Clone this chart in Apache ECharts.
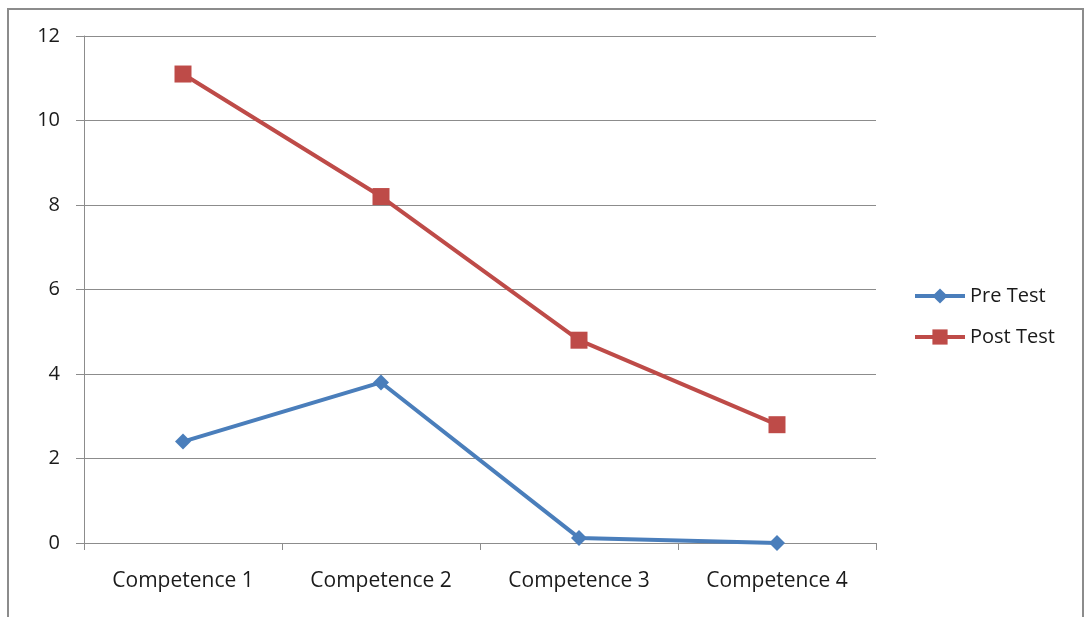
<!DOCTYPE html>
<html>
<head>
<meta charset="utf-8">
<script src="https://cdn.jsdelivr.net/npm/echarts@6/dist/echarts.min.js"></script>
<style>
  html, body { margin: 0; padding: 0; background: #fff; }
  #chart { width: 1085px; height: 617px; }
</style>
</head>
<body>
<div id="chart"></div>
<script>
const categories = ['Competence 1', 'Competence 2', 'Competence 3', 'Competence 4'];
const preTest = [2.4, 3.8, 0.12, 0];
const postTest = [11.1, 8.2, 4.8, 2.8];
const yTicks = { min: 0, max: 12, interval: 2 };

const font = '"Open Sans", "Liberation Sans", sans-serif';
const chart = echarts.init(document.getElementById('chart'), null, { renderer: 'canvas' });

chart.setOption({
  backgroundColor: '#fff',
  animation: false,
  graphic: [{
    type: 'rect',
    shape: { x: 8, y: 9, width: 1075, height: 640 },
    style: { fill: 'none', stroke: '#8c8c8c', lineWidth: 2 },
    silent: true
  }],
  grid: { left: 84, right: 209, top: 36, bottom: 74, containLabel: false },
  legend: {
    orient: 'vertical',
    left: 908,
    top: 281,
    itemWidth: 50,
    itemHeight: 19,
    itemGap: 21,
    lineStyle: { width: 4 },
    textStyle: { fontFamily: font, fontSize: 20, color: '#1a1a1a' },
    data: ['Pre Test', 'Post Test']
  },
  xAxis: {
    type: 'category',
    data: categories,
    boundaryGap: true,
    axisLine: { lineStyle: { color: '#8c8c8c', width: 1 } },
    axisTick: { show: true, length: 7, alignWithLabel: false, lineStyle: { color: '#8c8c8c' } },
    axisLabel: { fontFamily: font, fontSize: 21, color: '#1a1a1a', margin: 28 }
  },
  yAxis: {
    type: 'value',
    min: yTicks.min,
    max: yTicks.max,
    interval: yTicks.interval,
    axisLine: { show: true, lineStyle: { color: '#8c8c8c', width: 1 } },
    axisTick: { show: true, length: 8, lineStyle: { color: '#8c8c8c' } },
    axisLabel: { fontFamily: font, fontSize: 20, color: '#1a1a1a', margin: 24 },
    splitLine: { show: true, lineStyle: { color: '#8c8c8c', width: 1 } }
  },
  series: [
    {
      name: 'Pre Test',
      type: 'line',
      data: preTest,
      color: '#4a7ebb',
      symbol: 'diamond',
      symbolSize: 16,
      lineStyle: { width: 4, color: '#4a7ebb' },
      itemStyle: { color: '#4a7ebb' }
    },
    {
      name: 'Post Test',
      type: 'line',
      data: postTest,
      color: '#be4b48',
      symbol: 'rect',
      symbolSize: 17,
      lineStyle: { width: 4, color: '#be4b48' },
      itemStyle: { color: '#be4b48' }
    }
  ]
});
</script>
</body>
</html>
